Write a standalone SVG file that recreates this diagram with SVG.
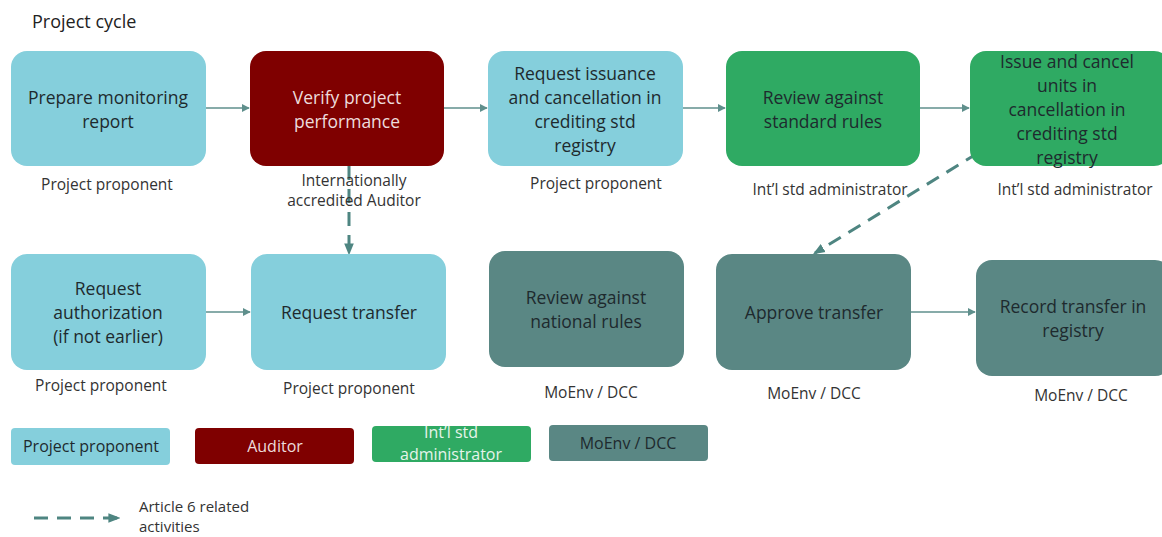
<svg xmlns="http://www.w3.org/2000/svg" width="1162" height="537" viewBox="0 0 1162 537">
<style>
text{font-family:"Open Sans","Liberation Sans",sans-serif}
.n{font-size:17.5px;text-anchor:middle;fill:#1e2a2e}
.nl{font-size:17.5px;text-anchor:middle;fill:#eddcdc}
.lb{font-size:15.5px;text-anchor:middle;fill:#333}
.lg{font-size:16px;text-anchor:middle;fill:#1e2a2e}
.blue{fill:#85CFDC}
.red{fill:#7F0000}
.green{fill:#2FAA63}
.teal{fill:#5A8784}
.c{stroke:#5f8f8c;stroke-width:1.5;fill:none}
.d{stroke:#4e8581;stroke-width:3;fill:none;stroke-dasharray:14 9}
</style>
<defs>
<marker id="ah" viewBox="0 0 10 10" refX="9" refY="5" markerWidth="8" markerHeight="8" markerUnits="userSpaceOnUse" orient="auto"><path d="M0,0 L10,5 L0,10 z" fill="#5f8f8c"/></marker>
<marker id="ad" viewBox="0 0 10 10" refX="8" refY="5" markerWidth="12" markerHeight="12" markerUnits="userSpaceOnUse" orient="auto"><path d="M0,1 L10,5 L0,9 z" fill="#4e8581"/></marker>
</defs>
<rect width="1162" height="537" fill="#fff"/>
<text x="32" y="28" style="font-size:18px;fill:#222">Project cycle</text>

<g id="connectors">
<line class="c" x1="206" y1="108" x2="249" y2="108" marker-end="url(#ah)"/>
<line class="c" x1="444" y1="108" x2="487" y2="108" marker-end="url(#ah)"/>
<line class="c" x1="683" y1="108" x2="725" y2="108" marker-end="url(#ah)"/>
<line class="c" x1="920" y1="108" x2="969" y2="108" marker-end="url(#ah)"/>
<line class="c" x1="206" y1="312" x2="250" y2="312" marker-end="url(#ah)"/>
<line class="c" x1="911" y1="312" x2="975" y2="312" marker-end="url(#ah)"/>
<line class="d" x1="349" y1="166" x2="349" y2="253" marker-end="url(#ad)"/>
<line class="d" x1="978" y1="153" x2="815" y2="253" marker-end="url(#ad)"/>
</g>

<g id="n1"><rect class="blue" x="11" y="51" width="195" height="115" rx="16"/>
<text class="n" x="108" y="104">Prepare monitoring</text><text class="n" x="108" y="128">report</text>
<text class="lb" x="107" y="190">Project proponent</text></g>

<g id="n2"><rect class="red" x="250" y="51" width="194" height="115" rx="16"/>
<text class="nl" x="347" y="104">Verify project</text><text class="nl" x="347" y="128">performance</text>
<text class="lb" x="354" y="186">Internationally</text><text class="lb" x="354" y="206">accredited Auditor</text></g>

<g id="n3"><rect class="blue" x="488" y="51" width="195" height="115" rx="16"/>
<text class="n" x="585" y="80">Request issuance</text><text class="n" x="585" y="104">and cancellation in</text>
<text class="n" x="585" y="128">crediting std</text><text class="n" x="585" y="152">registry</text>
<text class="lb" x="596" y="189">Project proponent</text></g>

<g id="n4"><rect class="green" x="726" y="51" width="194" height="115" rx="16"/>
<text class="n" x="823" y="104">Review against</text><text class="n" x="823" y="128">standard rules</text>
<text class="lb" x="830" y="195">Int’l std administrator</text></g>

<g id="n5"><rect class="green" x="970" y="51" width="200" height="115" rx="16"/>
<text class="n" x="1067" y="68">Issue and cancel</text><text class="n" x="1067" y="92">units in</text>
<text class="n" x="1067" y="116">cancellation in</text><text class="n" x="1067" y="140">crediting std</text>
<text class="n" x="1067" y="164">registry</text>
<text class="lb" x="1075" y="195">Int’l std administrator</text></g>

<g id="n6"><rect class="blue" x="11" y="254" width="195" height="116" rx="16"/>
<text class="n" x="108" y="295">Request</text><text class="n" x="108" y="319">authorization</text>
<text class="n" x="108" y="343">(if not earlier)</text>
<text class="lb" x="101" y="391">Project proponent</text></g>

<g id="n7"><rect class="blue" x="251" y="254" width="195" height="116" rx="16"/>
<text class="n" x="349" y="319">Request transfer</text>
<text class="lb" x="349" y="394">Project proponent</text></g>

<g id="n8"><rect class="teal" x="489" y="251" width="195" height="116" rx="16"/>
<text class="n" x="586" y="304">Review against</text><text class="n" x="586" y="328">national rules</text>
<text class="lb" x="591" y="398">MoEnv / DCC</text></g>

<g id="n9"><rect class="teal" x="716" y="254" width="195" height="116" rx="16"/>
<text class="n" x="814" y="319">Approve transfer</text>
<text class="lb" x="814" y="399">MoEnv / DCC</text></g>

<g id="n10"><rect class="teal" x="976" y="260" width="195" height="116" rx="16"/>
<text class="n" x="1073" y="313">Record transfer in</text><text class="n" x="1073" y="337">registry</text>
<text class="lb" x="1081" y="401">MoEnv / DCC</text></g>

<g id="legend">
<rect class="blue" x="11" y="428" width="159" height="37" rx="4"/>
<text class="lg" x="91" y="452">Project proponent</text>
<rect class="red" x="195" y="428" width="159" height="36" rx="4"/>
<text class="lg" x="275" y="452" style="fill:#eddcdc">Auditor</text>
<rect class="green" x="372" y="426" width="159" height="36" rx="4"/>
<text class="lg" x="451" y="438" style="fill:#e6f4ea">Int’l std</text>
<text class="lg" x="451" y="460" style="fill:#e6f4ea">administrator</text>
<rect class="teal" x="549" y="425" width="159" height="36" rx="4"/>
<text class="lg" x="628" y="449">MoEnv / DCC</text>
<line class="d" x1="34" y1="518" x2="118" y2="518" marker-end="url(#ad)"/>
<text x="139" y="512" style="font-size:15px;fill:#333">Article 6 related</text>
<text x="139" y="532" style="font-size:15px;fill:#333">activities</text>
</g>
</svg>
